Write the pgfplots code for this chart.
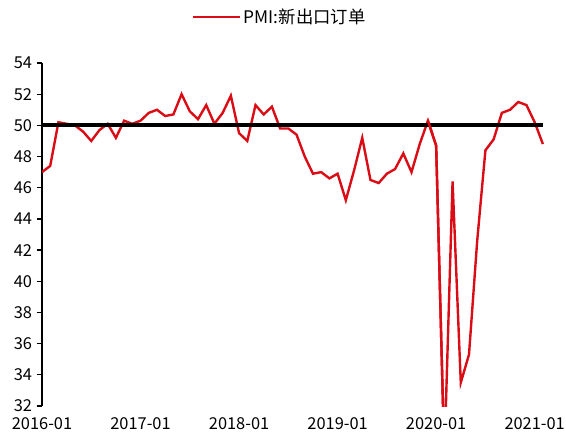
\documentclass[border=0pt]{standalone}
\usepackage{pgfplots}
\pgfplotsset{compat=1.18}
\usepackage{fontspec}
\setmainfont{Noto Sans CJK SC}
\definecolor{pmired}{RGB}{218,12,22}

\begin{document}
\begin{tikzpicture}
\begin{axis}[
    scale only axis,
    width=376.9pt, height=257.25pt,
    xmin=0, xmax=61.2,
    ymin=32, ymax=54,
    ytick={32,34,...,54},
    xtick={0,12,24,36,48,60},
    xticklabels={2016-01,2017-01,2018-01,2019-01,2020-01,2021-01},
    axis y line*=left,
    axis x line*=bottom,
    x axis line style={draw=none},
    x tick style={draw=none},
    y axis line style={line width=0.9pt, black},
    y tick style={line width=0.9pt, black},
    tick align=outside,
    major tick length=4pt,
    ticklabel style={font=\fontsize{12.3}{14}\selectfont},
    xticklabel style={yshift=-1pt},
    /pgf/number format/assume math mode=true,
    legend style={
        at={(rel axis cs:0.473,1.134)},
        anchor=center,
        draw=none,
        font=\fontsize{13}{15}\selectfont,
        legend cell align=left
    },
    legend image code/.code={\draw[#1] (0cm,0cm) -- (1.25cm,0cm);},
]
\addplot[color=pmired, line width=1.8pt] coordinates {
(0,47.0) (1,47.4) (2,50.2) (3,50.1) (4,50.0) (5,49.6) (6,49.0) (7,49.7)
(8,50.1) (9,49.2) (10,50.3) (11,50.1)
(12,50.3) (13,50.8) (14,51.0) (15,50.6) (16,50.7) (17,52.0) (18,50.9) (19,50.4)
(20,51.3) (21,50.1) (22,50.8) (23,51.9)
(24,49.5) (25,49.0) (26,51.3) (27,50.7) (28,51.2) (29,49.8) (30,49.8) (31,49.4)
(32,48.0) (33,46.9) (34,47.0) (35,46.6)
(36,46.9) (37,45.2) (38,47.1) (39,49.2) (40,46.5) (41,46.3) (42,46.9) (43,47.2)
(44,48.2) (45,47.0) (46,48.8) (47,50.3)
(48,48.7) (49,28.7) (50,46.4) (51,33.5) (52,35.3) (53,42.6) (54,48.4) (55,49.1)
(56,50.8) (57,51.0) (58,51.5) (59,51.3)
(60,50.2) (61,48.8)
};
\addlegendentry{PMI:新出口订单}
\addplot[black, line width=3pt, forget plot] coordinates {(0,50) (61,50)};
\addplot[color=pmired, line width=1.8pt, forget plot] coordinates {(47,50.3) (48,48.7) (49,28.7)};
\coordinate (bl) at (rel axis cs:0,0);
\end{axis}
\pgfresetboundingbox
\path[use as bounding box] ([xshift=-31.5pt,yshift=-22.5pt]bl) rectangle ++(424.5pt,327pt);
\end{tikzpicture}
\end{document}
